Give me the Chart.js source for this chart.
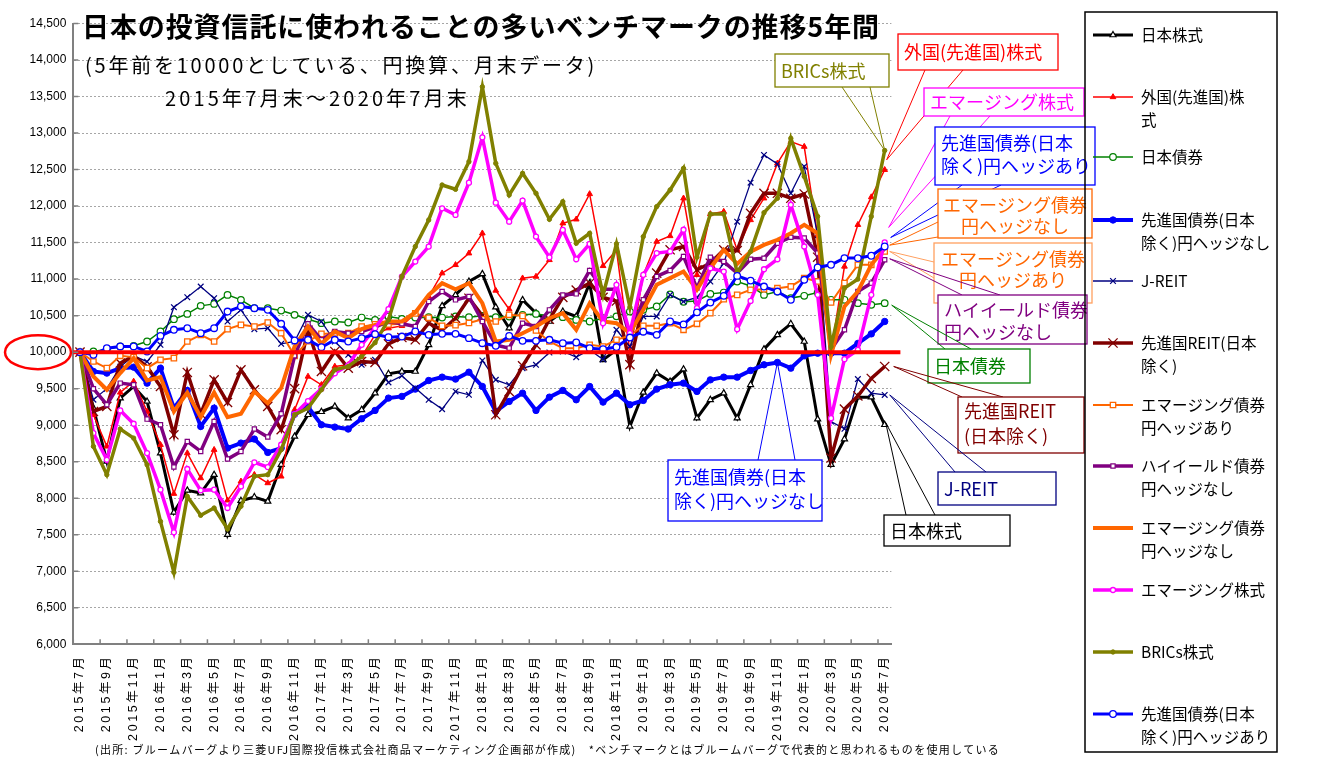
<!DOCTYPE html>
<html>
<head>
<meta charset="utf-8">
<script src="https://cdn.jsdelivr.net/npm/chart.js@4"></script>
<style>
  html, body { margin: 0; padding: 0; background: #fff; }
  #wrap { width: 1335px; height: 758px; }
</style>
</head>
<body>
<div id="wrap"><canvas id="chart" width="1335" height="758"></canvas></div>
<script>
// categories: 2015/7 .. 2020/7 month-end
const months = [
  '2015年7月','2015年8月','2015年9月','2015年10月','2015年11月','2015年12月',
  '2016年1月','2016年2月','2016年3月','2016年4月','2016年5月','2016年6月','2016年7月','2016年8月','2016年9月','2016年10月','2016年11月','2016年12月',
  '2017年1月','2017年2月','2017年3月','2017年4月','2017年5月','2017年6月','2017年7月','2017年8月','2017年9月','2017年10月','2017年11月','2017年12月',
  '2018年1月','2018年2月','2018年3月','2018年4月','2018年5月','2018年6月','2018年7月','2018年8月','2018年9月','2018年10月','2018年11月','2018年12月',
  '2019年1月','2019年2月','2019年3月','2019年4月','2019年5月','2019年6月','2019年7月','2019年8月','2019年9月','2019年10月','2019年11月','2019年12月',
  '2020年1月','2020年2月','2020年3月','2020年4月','2020年5月','2020年6月','2020年7月'
];

// series values (5 years ago = 10000)
const nihonKabu = [10000,9234,8504,9371,9530,9325,8618,7807,8108,8071,8322,7501,7966,8016,7957,8459,8846,9143,9184,9257,9097,9211,9439,9704,9735,9735,10100,10634,10784,10967,11072,10616,10328,10716,10534,10420,10556,10488,10944,9895,10032,8983,9448,9713,9599,9767,9097,9348,9439,9097,9553,10041,10237,10388,10146,9083,8459,8810,9384,9384,9006];
const gaikokuKabu = [10000,9143,8710,9448,9599,9188,8732,8062,8618,8276,8664,7971,8231,8322,8208,8299,9211,9667,9553,9804,9827,9940,10237,10328,10360,10534,10762,11081,11195,11354,11628,10844,10588,11012,11035,11263,11765,11819,12166,11181,11400,10000,11058,11514,11591,12107,11058,11892,11924,11400,11810,12107,12585,12882,12814,11600,10000,11173,11744,12123,12497];
const nihonSaiken = [10000,10009,10040,10078,10087,10146,10283,10451,10524,10634,10661,10784,10716,10602,10602,10570,10511,10451,10397,10420,10406,10474,10442,10488,10456,10474,10479,10474,10488,10479,10497,10480,10488,10511,10524,10497,10479,10442,10420,10465,10490,10556,10579,10625,10790,10690,10700,10798,10816,10967,10907,10784,10830,10740,10772,10817,10717,10717,10671,10648,10671];
const senshinSaikenNoHedge = [10000,9736,9713,9781,9795,9576,9781,9234,9476,8983,9234,8687,8755,8810,8627,8687,9150,9250,9006,8974,8947,9088,9202,9371,9394,9494,9612,9658,9631,9726,9530,9188,9325,9439,9202,9384,9476,9348,9530,9316,9439,9280,9339,9494,9553,9576,9462,9621,9658,9658,9749,9827,9859,9781,9950,9986,9986,9986,10120,10250,10420];
const jReit = [10000,9350,9500,9800,9950,9870,10100,10616,10752,10898,10739,10420,10579,10315,10328,10114,10146,10511,10420,10146,9964,9827,9895,9585,9676,9508,9348,9220,9462,9416,9886,9621,9553,9781,9827,9995,10009,9932,10032,9900,10306,10078,10489,10489,10785,10694,10750,10967,11218,11787,12321,12700,12576,12175,12543,11600,9050,8950,9631,9438,9415];
const senshinReit = [10000,9188,9257,9850,9950,9800,9530,8869,9722,9156,9622,9311,9758,9485,9257,8938,9500,10300,9736,10009,9781,9872,9859,10114,10200,10169,10397,10300,10465,10739,10500,9143,9462,9813,10100,10450,10750,10850,10944,10750,10700,9830,10670,11082,11402,11447,11128,11218,11400,11391,11901,12175,12175,12107,12166,11300,8550,9220,9400,9640,9804];
const emSaikenHedge = [10000,9872,9781,9950,9932,9781,9895,9918,10146,10237,10146,10315,10374,10351,10406,10260,9950,10150,10250,10260,10260,10350,10380,10380,10390,10530,10470,10360,10370,10400,10450,10420,10511,10497,10297,10146,10055,10055,10100,10078,10169,10230,10361,10361,10397,10306,10388,10534,10725,10784,10853,10862,10876,10900,11014,10968,10680,10945,11196,11196,11379];
const highYield = [10000,9500,9280,9576,9553,9083,9006,8427,8778,8641,9051,8536,8641,8947,8837,9156,9950,10388,10169,10283,10260,10283,10342,10420,10388,10351,10693,10830,10716,10762,10420,10100,10055,10397,10351,10579,10784,10798,11117,10860,10860,10215,10717,11037,11119,11310,10877,11300,11240,11081,11272,11286,11491,11573,11562,11356,10032,10306,10831,10945,11265];
const emSaikenNoHedge = [10000,9667,9485,9713,9918,9612,9658,9188,9448,9111,9448,9111,9156,9462,9302,9508,10078,10351,10114,10283,10192,10315,10374,10420,10420,10543,10784,10944,10862,10944,10670,10146,10169,10260,10351,10465,10534,10306,10670,10420,10397,10260,10580,10922,11014,11105,10854,11149,11400,11208,11377,11468,11537,11628,11744,11628,9963,10625,10831,11196,11424];
const emKabu = [10000,8892,8527,9202,9020,8618,8117,7533,8400,8108,8117,7866,8162,8491,8427,8732,9150,9330,9500,9710,9820,10100,10328,10588,11035,11240,11446,11970,11879,12321,12941,12047,11787,12075,11582,11299,11673,11272,11482,10397,10922,10260,11059,11356,11379,11676,10603,11149,11104,10315,10702,11135,11272,12018,11447,10785,9096,9904,10032,10785,11502];
const brics = [10000,8710,8322,8947,8823,8459,7683,6986,8025,7766,7866,7579,7890,8300,8322,8664,9143,9234,9485,9758,9804,9940,10130,10442,11035,11446,11810,12289,12230,12608,13634,12585,12152,12449,12175,11819,12061,11491,11628,10784,11482,10616,11582,11993,12221,12517,11300,11892,11892,11090,11377,11910,12107,12928,12406,11858,10078,10877,11000,11858,12762];
const senshinSaikenHedge = [10000,9964,10055,10078,10078,10009,10223,10306,10328,10260,10328,10556,10625,10602,10579,10388,10160,10169,10068,10169,10146,10192,10246,10205,10214,10283,10237,10251,10251,10192,10123,10087,10223,10155,10155,10169,10123,10132,10055,10040,10070,10200,10280,10237,10420,10380,10545,10679,10771,11044,10980,10898,10830,10717,10991,11160,11196,11288,11288,11320,11447];

// y axis range
const yMin = 6000, yMax = 14500, yStep = 500, baseValue = 10000;

const JP = '"Noto Sans CJK JP", "Noto Sans", sans-serif';

// series styling (Excel-like order: later series on top)
const seriesDefs = [
  { label: '日本株式', data: nihonKabu, color: '#000000', width: 3, style: 'triangle', r: 3.5, fill: '#ffffff', pbw: 1.2 },
  { label: '外国(先進国)株式', data: gaikokuKabu, color: '#FF0000', width: 1.5, style: 'triangle', r: 3.3, fill: '#FF0000', pbw: 1 },
  { label: '日本債券', data: nihonSaiken, color: '#008000', width: 1.5, style: 'circle', r: 3.3, fill: '#ffffff', pbw: 1.2 },
  { label: '先進国債券(日本除く)円ヘッジなし', data: senshinSaikenNoHedge, color: '#0000FF', width: 4, style: 'circle', r: 3.2, fill: '#0000FF', pbw: 1 },
  { label: 'J-REIT', data: jReit, color: '#000080', width: 1.3, style: 'crossRot', r: 4, fill: '#000080', pbw: 1.2 },
  { label: '先進国REIT(日本除く)', data: senshinReit, color: '#800000', width: 3.5, style: 'crossRot', r: 6.5, fill: '#800000', pbw: 1.3 },
  { label: 'エマージング債券円ヘッジあり', data: emSaikenHedge, color: '#FF6600', width: 2, style: 'rect', r: 3.8, fill: '#ffffff', pbw: 1.3 },
  { label: 'ハイイールド債券円ヘッジなし', data: highYield, color: '#800080', width: 3.5, style: 'rect', r: 3, fill: '#ffffff', pbw: 1.2 },
  { label: 'エマージング債券円ヘッジなし', data: emSaikenNoHedge, color: '#FF6600', width: 4, style: 'circle', r: 0, fill: '#FF6600', pbw: 0 },
  { label: 'エマージング株式', data: emKabu, color: '#FF00FF', width: 3.5, style: 'circle', r: 2.5, fill: '#ffffff', pbw: 1.3 },
  { label: 'BRICs株式', data: brics, color: '#808000', width: 3.5, style: 'circle', r: 2.2, fill: '#808000', pbw: 1 },
  { label: '先進国債券(日本除く)円ヘッジあり', data: senshinSaikenHedge, color: '#0000FF', width: 3, style: 'circle', r: 3.3, fill: '#ffffff', pbw: 1.3 }
];

const datasets = seriesDefs.map((s, i) => ({
  label: s.label,
  data: s.data,
  borderColor: s.color,
  backgroundColor: s.color,
  borderWidth: s.width,
  pointStyle: s.style,
  pointRadius: s.r,
  pointBackgroundColor: s.fill,
  pointBorderColor: s.color,
  pointBorderWidth: s.pbw,
  fill: false,
  tension: 0,
  order: seriesDefs.length - i
}));

// legend rows (right hand box)
const legendRows = [
  { ds: 0, lines: ['日本株式'], y: 35 },
  { ds: 1, lines: ['外国(先進国)株', '式'], y: 97 },
  { ds: 2, lines: ['日本債券'], y: 157 },
  { ds: 3, lines: ['先進国債券(日本', '除く)円ヘッジなし'], y: 220 },
  { ds: 4, lines: ['J-REIT'], y: 281 },
  { ds: 5, lines: ['先進国REIT(日本', '除く)'], y: 343 },
  { ds: 6, lines: ['エマージング債券', '円ヘッジあり'], y: 405 },
  { ds: 7, lines: ['ハイイールド債券', '円ヘッジなし'], y: 466 },
  { ds: 8, lines: ['エマージング債券', '円ヘッジなし'], y: 528 },
  { ds: 9, lines: ['エマージング株式'], y: 590 },
  { ds: 10, lines: ['BRICs株式'], y: 652 },
  { ds: 11, lines: ['先進国債券(日本', '除く)円ヘッジあり'], y: 714 }
];

// callout boxes with leader lines to a data point
const callouts = [
  { ds: 10, idx: 60, off: [0, 0], box: [775, 54, 114, 33], lines: ['BRICs株式'], ty: [71], color: '#808000', border: '#808000', anchors: [[842, 87], [870, 87]] },
  { ds: 1, idx: 60, off: [2, -10], box: [898, 34, 160, 36], lines: ['外国(先進国)株式'], ty: [52], color: '#FF0000', border: '#FF0000', anchors: [[925, 70], [963, 70]] },
  { ds: 9, idx: 60, off: [4, -15], box: [924, 88, 160, 28], lines: ['エマージング株式'], ty: [102], color: '#FF00FF', border: '#FF00FF', anchors: [[950, 116], [990, 116]] },
  { ds: 11, idx: 60, off: [6, -9], box: [935, 127, 160, 58], lines: ['先進国債券(日本', '除く)円ヘッジあり'], ty: [143, 166], color: '#0000FF', border: '#0000FF', anchors: [[962, 185], [1001, 185]] },
  { ds: 8, idx: 60, off: [5, -3], box: [938, 189, 154, 49], lines: ['エマージング債券', '円ヘッジなし'], ty: [205, 226], color: '#FF6600', border: '#FF6600', align: 'center', anchors: [[938, 222], [938, 237]] },
  { ds: 6, idx: 60, off: [5, 0], box: [934, 243, 158, 60], lines: ['エマージング債券', '円ヘッジあり'], ty: [259, 280], color: '#FF6600', border: '#FFA060', align: 'center', anchors: [[934, 262], [934, 278]] },
  { ds: 7, idx: 60, off: [5, -1], box: [938, 295, 149, 49], lines: ['ハイイールド債券', '円ヘッジなし'], ty: [310, 332], color: '#800080', border: '#800080', anchors: [[962, 295], [1000, 295]] },
  { ds: 2, idx: 60, off: [7, 2], box: [928, 349, 102, 34], lines: ['日本債券'], ty: [366], color: '#008000', border: '#008000', anchors: [[945, 349], [971, 349]] },
  { ds: 5, idx: 60, off: [9, 0], box: [958, 397, 126, 56], lines: ['先進国REIT', '(日本除く)'], ty: [411, 436], color: '#800000', border: '#800000', anchors: [[962, 397], [1003, 397]] },
  { ds: 4, idx: 60, off: [5, 0], box: [938, 472, 118, 33], lines: ['J-REIT'], ty: [489], color: '#000080', border: '#000080', anchors: [[955, 472], [986, 472]] },
  { ds: 0, idx: 60, off: [1, -2], box: [884, 515, 126, 31], lines: ['日本株式'], ty: [531], color: '#000000', border: '#000000', anchors: [[906, 515], [935, 515]] },
  { ds: 3, idx: 52, off: [0, 0], box: [668, 460, 154, 61], lines: ['先進国債券(日本', '除く)円ヘッジなし'], ty: [477, 501], color: '#0000FF', border: '#0000FF', anchors: [[758, 460], [795, 460]] }
];

function drawText(ctx, s, x, y, size, color, opt) {
  opt = opt || {};
  ctx.save();
  ctx.font = (opt.bold ? 'bold ' : '') + size + 'px ' + (opt.family || JP);
  ctx.fillStyle = color;
  ctx.textBaseline = 'middle';
  ctx.textAlign = opt.align || 'left';
  if ('letterSpacing' in ctx) {
    if (opt.width) {
      const w = ctx.measureText(s).width;
      ctx.letterSpacing = ((opt.width - w) / [...s].length) + 'px';
    } else if (opt.spacing) {
      ctx.letterSpacing = opt.spacing + 'px';
    }
  }
  ctx.fillText(s, x, y);
  ctx.restore();
}

const decor = {
  id: 'decor',
  afterDatasetsDraw(chart) {
    const { ctx, chartArea, scales } = chart;
    const y = scales.y.getPixelForValue(baseValue);
    ctx.save();
    ctx.strokeStyle = '#FF0000';
    ctx.lineWidth = 4;
    ctx.beginPath();
    ctx.moveTo(chartArea.left, y);
    ctx.lineTo(chartArea.right + 9, y);
    ctx.stroke();
    ctx.restore();
  },
  afterDraw(chart) {
    const { ctx, chartArea, scales } = chart;
    const { left, right, top, bottom } = chartArea;

    // inner tick marks
    ctx.save();
    ctx.strokeStyle = '#808080';
    ctx.lineWidth = 1.5;
    ctx.beginPath();
    const cw = (right - left) / months.length;
    for (let i = 0; i < months.length; i += 2) {
      const x = left + i * cw;
      ctx.moveTo(x, bottom);
      ctx.lineTo(x, bottom - 5);
    }
    for (let v = yMin; v <= yMax; v += yStep) {
      const y = scales.y.getPixelForValue(v);
      ctx.moveTo(left, y);
      ctx.lineTo(left + 5, y);
    }
    ctx.stroke();
    ctx.restore();

    // x labels, every 2nd month, rotated
    for (let i = 0; i < months.length; i += 2) {
      const x = scales.x.getPixelForValue(i);
      ctx.save();
      ctx.translate(x, bottom + 10);
      ctx.rotate(-Math.PI / 2);
      drawText(ctx, months[i], 0, 0, 12.5, '#000', { align: 'right', spacing: 2.6, family: '"Liberation Sans", "Noto Sans CJK JP", sans-serif' });
      ctx.restore();
    }

    // red ellipse around 10,000
    const y0 = scales.y.getPixelForValue(baseValue);
    ctx.save();
    ctx.strokeStyle = '#FF0000';
    ctx.lineWidth = 2.5;
    ctx.beginPath();
    ctx.ellipse(38, y0, 33, 17, 0, 0, Math.PI * 2);
    ctx.stroke();
    ctx.restore();

    // titles
    drawText(ctx, '日本の投資信託に使われることの多いベンチマークの推移5年間', 82, 27, 27, '#000', { bold: true, width: 798 });
    drawText(ctx, '(5年前を10000としている、円換算、月末データ)', 85, 65, 20, '#000', { width: 512 });
    drawText(ctx, '2015年7月末～2020年7月末', 165, 98, 20, '#000', { width: 305 });
    drawText(ctx, '(出所: ブルームバーグより三菱UFJ国際投信株式会社商品マーケティング企画部が作成)　*ベンチマークとはブルームバーグで代表的と思われるものを使用している', 95, 750, 11, '#000', { width: 905 });

    // callouts
    callouts.forEach(c => {
      const pt = chart.getDatasetMeta(c.ds).data[c.idx];
      const tx = pt.x + c.off[0], ty = pt.y + c.off[1];
      ctx.save();
      ctx.strokeStyle = c.border;
      ctx.lineWidth = 1;
      ctx.beginPath();
      c.anchors.forEach(a => { ctx.moveTo(a[0], a[1]); ctx.lineTo(tx, ty); });
      ctx.stroke();
      const [bx, by, bw, bh] = c.box;
      ctx.fillStyle = '#ffffff';
      ctx.fillRect(bx, by, bw, bh);
      ctx.lineWidth = 1.3;
      ctx.strokeRect(bx, by, bw, bh);
      ctx.restore();
      c.lines.forEach((s, k) => {
        const x = c.align === 'center' ? bx + bw / 2 : bx + 6;
        drawText(ctx, s, x, c.ty[k], 18, c.color, { align: c.align || 'left' });
      });
    });

    // legend
    ctx.save();
    ctx.strokeStyle = '#000';
    ctx.lineWidth = 1.5;
    ctx.strokeRect(1085, 12, 192, 740);
    legendRows.forEach(row => {
      const ds = chart.data.datasets[row.ds];
      ctx.save();
      ctx.strokeStyle = ds.borderColor;
      ctx.lineWidth = ds.borderWidth;
      ctx.beginPath();
      ctx.moveTo(1093, row.y);
      ctx.lineTo(1133, row.y);
      ctx.stroke();
      if (ds.pointRadius > 0) {
        ctx.fillStyle = ds.pointBackgroundColor;
        ctx.strokeStyle = ds.pointBorderColor;
        ctx.lineWidth = ds.pointBorderWidth;
        Chart.helpers.drawPoint(ctx, { pointStyle: ds.pointStyle, radius: ds.pointRadius, borderWidth: ds.pointBorderWidth, rotation: 0 }, 1113, row.y);
      }
      ctx.restore();
      row.lines.forEach((s, k) => drawText(ctx, s, 1141, row.y + k * 23.5, 15.5, '#000'));
    });
    ctx.restore();
  }
};

new Chart(document.getElementById('chart'), {
  type: 'line',
  data: { labels: months, datasets },
  options: {
    responsive: false,
    animation: false,
    devicePixelRatio: 1,
    layout: { padding: { left: 0, right: 443.6, top: 23.5, bottom: 0 } },
    plugins: { legend: { display: false }, tooltip: { enabled: false } },
    scales: {
      x: {
        type: 'category',
        offset: true,
        grid: { display: false },
        border: { display: true, color: '#808080', width: 2 },
        ticks: { display: false, autoSkip: false },
        afterFit: s => { s.height = 113.7; }
      },
      y: {
        min: yMin,
        max: yMax,
        ticks: {
          stepSize: yStep,
          padding: 7,
          color: '#000',
          font: { size: 12, family: '"Liberation Sans", Arial, sans-serif' },
          callback: v => v.toLocaleString('en-US')
        },
        grid: { color: '#a6a6a6', lineWidth: 1, drawTicks: false },
        border: { display: true, color: '#808080', width: 2, dash: [2, 2] },
        afterFit: s => { s.width = 73.3; }
      }
    }
  },
  plugins: [decor]
});
</script>
</body>
</html>
